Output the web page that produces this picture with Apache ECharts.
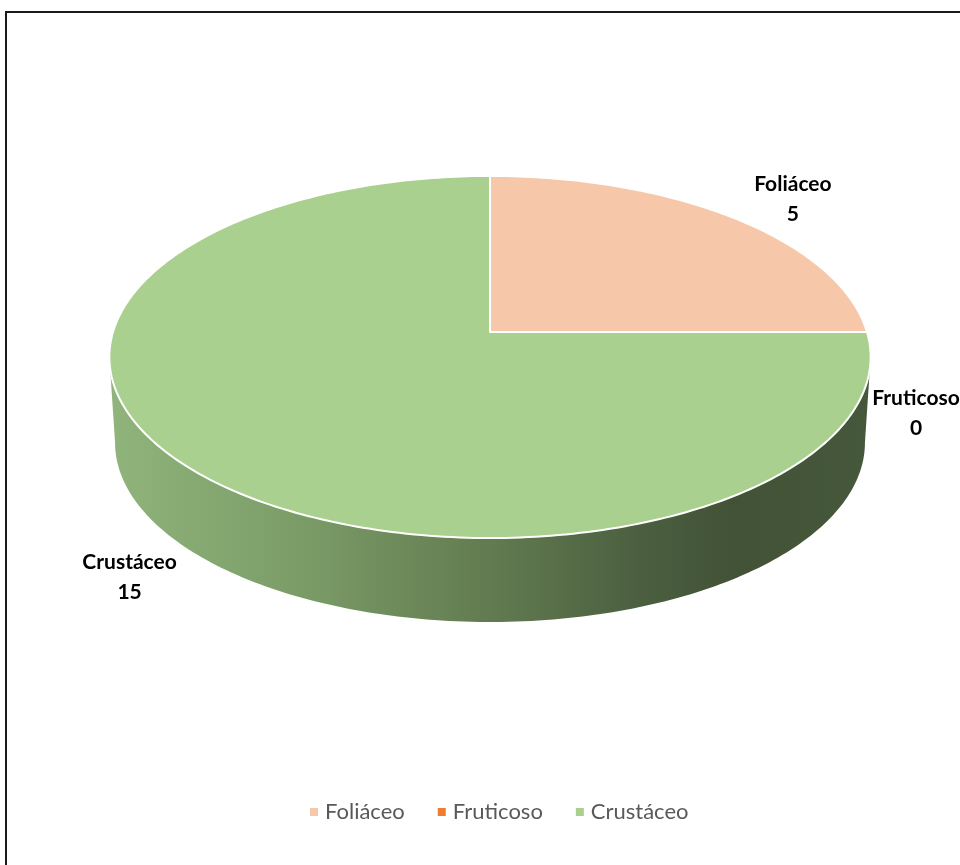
<!DOCTYPE html>
<html>
<head>
<meta charset="utf-8">
<script src="https://cdn.jsdelivr.net/npm/echarts@6/dist/echarts.min.js"></script>
<style>
html,body{margin:0;padding:0;background:#fff;}
#chart{width:960px;height:865px;}
</style>
</head>
<body>
<div id="chart"></div>
<script>
// ---- data ----
var categories = ['Foliáceo', 'Fruticoso', 'Crustáceo'];
var values = [5, 0, 15];
var sliceColors = ['#F6C8A9', '#ED7D31', '#A9D08E'];

// ---- layout / style constants ----
var CX = 490, AY = 332;         // apex of pie (projected centre)
var SX = 377, SY = 177.6;       // projected radii
var E = 0.138;                  // perspective factor
var DEPTH = 86;                 // wall height
var labelNudge = [[60, -18], [49, 81], [-65, 106]];

var total = values.reduce(function (s, v) { return s + v; }, 0);

function proj(t, sx, sy, dy) {
  var X = Math.sin(t), Z = Math.cos(t), w = 1 + E * Z;
  return [CX + sx * X / w, AY + dy - sy * Z / w];
}

var thL = Math.acos(-E), thR = 2 * Math.PI - Math.acos(-E);

var wallGrad = new echarts.graphic.LinearGradient(110, 0, 870, 0, [
  { offset: 0, color: '#90B47C' },
  { offset: 0.25, color: '#7B9C67' },
  { offset: 0.5, color: '#627B50' },
  { offset: 0.7, color: '#4B5F40' },
  { offset: 0.82, color: '#425236' },
  { offset: 1, color: '#46583B' }
], true);

function makeRender(idx) {
  return function (params, api) {
    var v = api.value(0);
    var before = 0;
    for (var k = 0; k < idx; k++) before += values[k];
    var a = before / total * 2 * Math.PI;
    var b = a + v / total * 2 * Math.PI;
    var children = [];
    if (b > a) {
      var lo = Math.max(a, thL), hi = Math.min(b, thR);
      if (hi > lo) {
        var pts = [], n = Math.max(2, Math.ceil((hi - lo) / (Math.PI / 180)));
        for (var i = 0; i <= n; i++) pts.push(proj(lo + (hi - lo) * i / n, SX, SY, 0));
        for (var j = n; j >= 0; j--) pts.push(proj(lo + (hi - lo) * j / n, SX * 0.985, SY * 0.99, DEPTH));
        children.push({ type: 'polygon', z2: 1, shape: { points: pts }, style: { fill: wallGrad, stroke: null } });
      }
      var tp = [[CX, AY]], m = Math.max(2, Math.ceil((b - a) / (Math.PI / 180)));
      for (var q = 0; q <= m; q++) tp.push(proj(a + (b - a) * q / m, SX, SY, 0));
      children.push({ type: 'polygon', z2: 2, shape: { points: tp },
        style: { fill: sliceColors[idx], stroke: '#ffffff', lineWidth: 2, lineJoin: 'round' } });
    }
    var mid = (a + b) / 2;
    var base = proj(mid, SX, SY, 0);
    children.push({ type: 'text', z2: 5,
      x: base[0] + labelNudge[idx][0], y: base[1] + labelNudge[idx][1],
      style: { text: categories[idx] + '\n' + v, fill: '#000000',
        font: 'bold 21px Lato, "Liberation Sans", sans-serif', lineHeight: 30,
        align: 'center', verticalAlign: 'middle' } });
    return { type: 'group', children: children };
  };
}

var series = categories.map(function (name, i) {
  return {
    type: 'custom', name: name, coordinateSystem: 'none',
    itemStyle: { color: sliceColors[i] },
    data: [[values[i]]],
    renderItem: makeRender(i),
    silent: true
  };
});

var chart = echarts.init(document.getElementById('chart'), null, { renderer: 'canvas' });
chart.setOption({
  animation: false,
  backgroundColor: '#ffffff',
  legend: {
    data: categories, left: 305, top: 796, icon: 'rect',
    itemWidth: 8, itemHeight: 8, itemGap: 33,
    textStyle: { fontSize: 22, color: '#595959', fontFamily: 'Lato, "Liberation Sans", sans-serif', padding: [0, 0, 0, 2] },
    selectedMode: false
  },
  graphic: [{
    type: 'rect', silent: true, z: -10,
    shape: { x: 6, y: 12, width: 1000, height: 900 },
    style: { fill: 'none', stroke: '#1a1a1a', lineWidth: 2 }
  }],
  series: series
});
</script>
</body>
</html>
